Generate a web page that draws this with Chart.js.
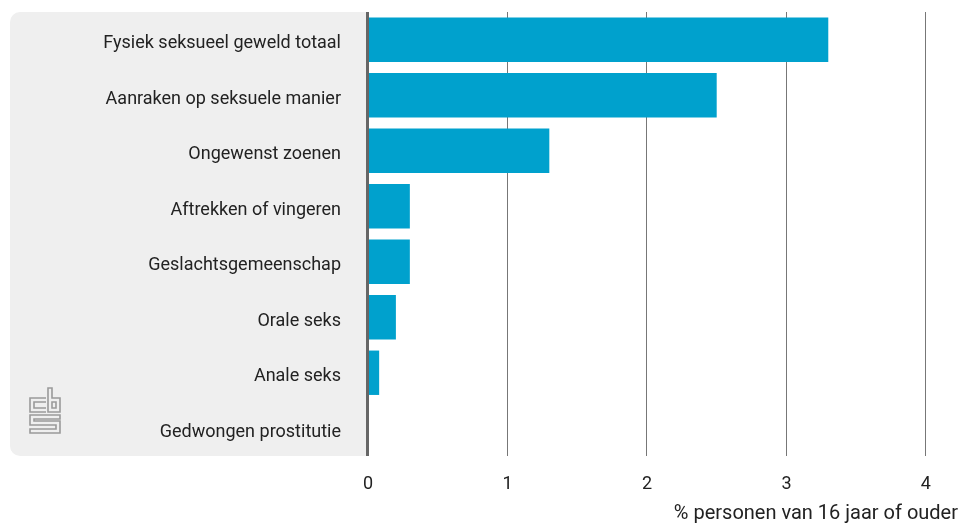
<!DOCTYPE html>
<html lang="nl">
<head>
  <meta charset="UTF-8" />
  <title>Fysiek seksueel geweld</title>
  <style>
    html, body { margin: 0; padding: 0; background: #fff; }
    #wrap { width: 966px; height: 526px; }
  </style>
</head>
<body>
  <div id="wrap"><canvas id="grafiek" width="966" height="526"></canvas></div>

  <script src="https://cdn.jsdelivr.net/npm/chart.js"></script>
  <script>
    // Data
    const categorieen = [
      'Fysiek seksueel geweld totaal',
      'Aanraken op seksuele manier',
      'Ongewenst zoenen',
      'Aftrekken of vingeren',
      'Geslachtsgemeenschap',
      'Orale seks',
      'Anale seks',
      'Gedwongen prostitutie'
    ];
    const waarden = [3.3, 2.5, 1.3, 0.3, 0.3, 0.2, 0.08, 0];
    const asTicks = [0, 1, 2, 3, 4];
    const asTitel = '% personen van 16 jaar of ouder';

    const FONT = 'Roboto, "Open Sans", sans-serif';

    // grijs vlak achter de labels + cbs logo
    const achtergrond = {
      id: 'achtergrond',
      beforeDraw(chart) {
        const ctx = chart.ctx;
        const a = chart.chartArea;
        const x0 = 10, x1 = a.left, y0 = a.top, y1 = a.bottom, r = 10;
        ctx.save();
        ctx.fillStyle = '#efefef';
        ctx.beginPath();
        ctx.moveTo(x1, y0);
        ctx.lineTo(x0 + r, y0);
        ctx.arcTo(x0, y0, x0, y0 + r, r);
        ctx.lineTo(x0, y1 - r);
        ctx.arcTo(x0, y1, x0 + r, y1, r);
        ctx.lineTo(x1, y1);
        ctx.closePath();
        ctx.fill();

        // logo
        ctx.strokeStyle = '#9a9a9a';
        ctx.lineWidth = 1.6;
        ctx.beginPath();
        // c
        ctx.moveTo(46, 398); ctx.lineTo(30, 398); ctx.lineTo(30, 412); ctx.lineTo(46, 412);
        ctx.moveTo(46, 402); ctx.lineTo(34, 402); ctx.lineTo(34, 408); ctx.lineTo(46, 408);
        // b
        ctx.moveTo(48, 388); ctx.lineTo(48, 412); ctx.lineTo(60, 412); ctx.lineTo(60, 398); ctx.lineTo(52, 398); ctx.lineTo(52, 388); ctx.closePath();
        ctx.rect(52, 402, 4, 6);
        // s
        ctx.moveTo(60, 415); ctx.lineTo(30, 415); ctx.lineTo(30, 425); ctx.lineTo(56, 425);
        ctx.lineTo(56, 429); ctx.lineTo(30, 429); ctx.lineTo(30, 433); ctx.lineTo(60, 433);
        ctx.lineTo(60, 421); ctx.lineTo(34, 421); ctx.lineTo(34, 419); ctx.lineTo(60, 419); ctx.closePath();
        ctx.stroke();
        ctx.restore();
      }
    };

    // nullijn bovenop de balken
    const nullijn = {
      id: 'nullijn',
      afterDatasetsDraw(chart) {
        const ctx = chart.ctx;
        const x = chart.scales.x.getPixelForValue(0);
        ctx.save();
        ctx.strokeStyle = '#666';
        ctx.lineWidth = 3;
        ctx.beginPath();
        ctx.moveTo(x - 0.5, chart.chartArea.top);
        ctx.lineTo(x - 0.5, chart.chartArea.bottom);
        ctx.stroke();
        ctx.restore();
      }
    };

    new Chart(document.getElementById('grafiek'), {
      type: 'bar',
      data: {
        labels: categorieen,
        datasets: [{
          data: waarden,
          backgroundColor: '#00a1cd',
          borderWidth: 0,
          barPercentage: 0.8,
          categoryPercentage: 1
        }]
      },
      options: {
        indexAxis: 'y',
        responsive: false,
        animation: false,
        layout: { padding: { top: 12, right: 8, left: 0, bottom: 0 } },
        plugins: { legend: { display: false }, tooltip: { enabled: false } },
        scales: {
          x: {
            min: 0,
            max: 4.23,
            afterBuildTicks(s) { s.ticks = asTicks.map(v => ({ value: v })); },
            afterFit(s) { s.height = 70; s.paddingLeft = 0; s.paddingRight = 0; },
            border: { display: false },
            grid: { color: '#777', lineWidth: 1, drawTicks: false },
            ticks: { color: '#222', font: { family: FONT, size: 18 }, padding: 18 },
            title: {
              display: true, text: asTitel, align: 'end', color: '#222',
              font: { family: FONT, size: 20 }, padding: { top: 8, bottom: 0 }
            }
          },
          y: {
            afterFit(s) { s.width = 368; s.paddingTop = 0; s.paddingBottom = 0; },
            border: { display: false },
            grid: { display: false, drawTicks: false },
            ticks: { color: '#222', font: { family: FONT, size: 18 }, padding: 27, labelOffset: 4 }
          }
        }
      },
      plugins: [achtergrond, nullijn]
    });
  </script>
</body>
</html>
